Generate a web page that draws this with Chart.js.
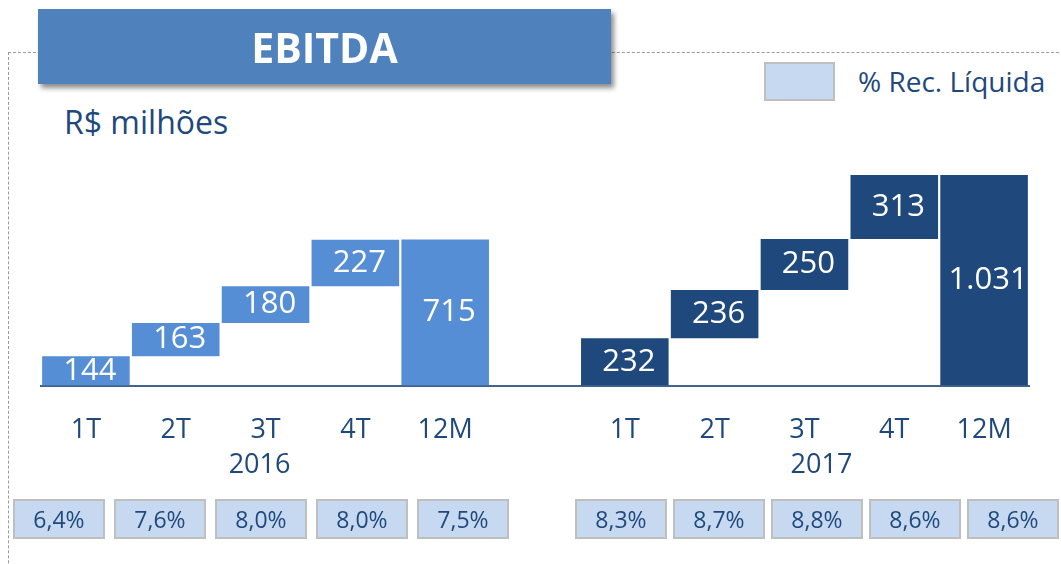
<!DOCTYPE html>
<html>
<head>
<meta charset="utf-8">
<title>EBITDA</title>
<script src="https://cdn.jsdelivr.net/npm/chart.js@4.4.1/dist/chart.umd.min.js"></script>
<style>
  body { margin: 0; width: 1061px; height: 564px; overflow: hidden; background: #fff; position: relative; font-family: "Open Sans", sans-serif; }
  #frame { position: absolute; left: 8px; top: 52px; width: 1100px; height: 600px; border-top: 1px dashed #9a9a9a; border-left: 1px dashed #9a9a9a; }
  #title { position: absolute; left: 38px; top: 9px; width: 573px; height: 75px; background: #4f81bd; color: #fff; font-weight: bold; font-size: 41px; display: flex; align-items: center; justify-content: center; box-shadow: 3px 4px 5px rgba(0,0,0,0.45); z-index: 2; }
  #unit { position: absolute; left: 64px; top: 100px; font-size: 32px; color: #1f497d; white-space: nowrap; }
  #legendBox { position: absolute; left: 764px; top: 62px; width: 71px; height: 39px; box-sizing: border-box; background: #c6d9f1; border: 2px solid #bfbfbf; }
  #legendText { position: absolute; left: 858px; top: 62px; font-size: 28px; color: #1f497d; white-space: nowrap; }
  canvas { position: absolute; left: 0; top: 0; }
  .pct-row { position: absolute; top: 499px; display: flex; }
  .pct { box-sizing: border-box; width: 92px; height: 40px; border: 2px solid #bfbfbf; background: #c6d9f1; color: #1f497d; font-size: 23px; display: flex; align-items: center; justify-content: center; }
</style>
</head>
<body>
<div id="frame"></div>
<div id="title">EBITDA</div>
<div id="unit">R$ milhões</div>
<div id="legendBox"></div>
<div id="legendText">% Rec. Líquida</div>
<canvas id="chart" width="1061" height="564"></canvas>
<div class="pct-row" id="row2016" style="left:13px; gap:9px;"></div>
<div class="pct-row" id="row2017" style="left:575px; gap:6px;"></div>
<script>
const categories = ['1T', '2T', '3T', '4T', '12M', '', '1T', '2T', '3T', '4T', '12M'];
const years = ['2016', '2017'];
const quarters2016 = [144, 163, 180, 227];
const total2016 = 715;
const quarters2017 = [232, 236, 250, 313];
const total2017 = 1031;
const margin2016 = [6.4, 7.6, 8.0, 8.0, 7.5];
const margin2017 = [8.3, 8.7, 8.8, 8.6, 8.6];

const color2016 = '#558ed5';
const color2017 = '#1f497d';
const textBlue = '#1f497d';

// waterfall: each quarter floats on top of the previous ones, 12M starts at zero
function steps(quarters, total) {
    let run = 0;
    const out = quarters.map(v => {
        const r = [run, run + v];
        run += v;
        return r;
    });
    out.push([0, total]);
    return out;
}

const barData = [...steps(quarters2016, total2016), null, ...steps(quarters2017, total2017)];
const shown = [...quarters2016, total2016, null, ...quarters2017, total2017];
const barColors = categories.map((c, i) => i < 5 ? color2016 : color2017);

const fmtNum = v => String(v).replace(/\B(?=(\d{3})+(?!\d))/g, '.');
const fmtPct = v => v.toFixed(1).replace('.', ',') + '%';

// percentage table below the chart
function fillRow(id, values) {
    const row = document.getElementById(id);
    values.forEach(v => {
        const d = document.createElement('div');
        d.className = 'pct';
        d.textContent = fmtPct(v);
        row.appendChild(d);
    });
}
fillRow('row2016', margin2016);
fillRow('row2017', margin2017);

const valueLabels = {
    id: 'valueLabels',
    afterDatasetsDraw(chart) {
        const ctx = chart.ctx;
        const meta = chart.getDatasetMeta(0);
        ctx.save();
        ctx.font = '31px "Open Sans"';
        ctx.fillStyle = '#fff';
        ctx.textAlign = 'center';
        ctx.textBaseline = 'middle';
        meta.data.forEach((bar, i) => {
            if (shown[i] == null) return;
            ctx.fillText(fmtNum(shown[i]), bar.x + 4, (bar.y + bar.base) / 2);
        });
        // year captions under the 3T ticks
        const x = chart.scales.x;
        ctx.font = '27px "Open Sans"';
        ctx.fillStyle = textBlue;
        ctx.fillText(years[0], x.getPixelForValue(2) - 6, 465);
        ctx.fillText(years[1], x.getPixelForValue(8) + 17, 465);
        ctx.restore();
    }
};

const ctx = document.getElementById('chart').getContext('2d');
const chart = new Chart(ctx, {
    type: 'bar',
    data: {
        labels: categories,
        datasets: [{
            data: barData,
            backgroundColor: barColors,
            borderWidth: 0,
            barPercentage: 0.975,
            categoryPercentage: 1
        }]
    },
    options: {
        responsive: false,
        animation: false,
        layout: {
            padding: { left: 41, right: 32, top: 161, bottom: 88 }
        },
        plugins: {
            legend: { display: false },
            tooltip: { enabled: false }
        },
        scales: {
            y: {
                display: false,
                min: 0,
                max: 1100
            },
            x: {
                grid: { display: false, drawTicks: false },
                border: { display: true, color: '#41648f', width: 2 },
                ticks: {
                    color: textBlue,
                    font: { family: '"Open Sans"', size: 27 },
                    padding: 29,
                    autoSkip: false,
                    maxRotation: 0
                }
            }
        }
    },
    plugins: [valueLabels]
});
</script>
</body>
</html>
